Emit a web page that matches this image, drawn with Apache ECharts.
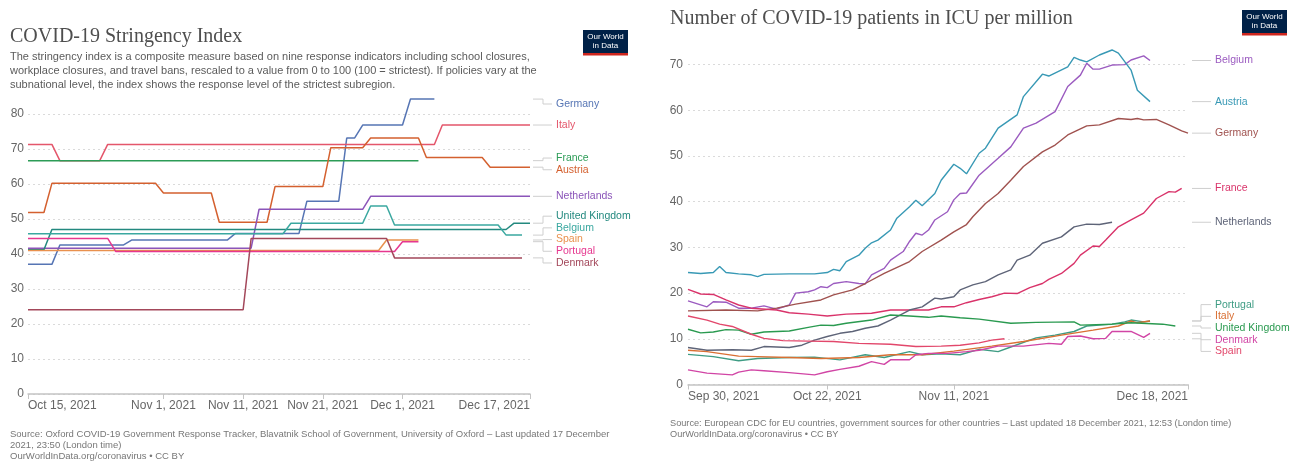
<!DOCTYPE html>
<html><head><meta charset="utf-8">
<script src="https://cdn.jsdelivr.net/npm/echarts@6/dist/echarts.min.js"></script>
<style>html,body{margin:0;padding:0;background:#fff}#c{width:1294px;height:461px}</style>
</head><body><div id="c"></div>
<script>
const DAY = 86400000;
const MONTHS = ['Jan','Feb','Mar','Apr','May','Jun','Jul','Aug','Sep','Oct','Nov','Dec'];
function utc(y,m,d){ return Date.UTC(y,m-1,d); }

// ---------- Left chart: stringency index (day offsets from Oct 15, 2021) ----------
const leftStart = utc(2021,10,15);
const leftEndDay = 63;  // Dec 17, 2021
const leftTickDays = [0,17,27,37,47,63];
const leftNames = ['Germany','Italy','France','Austria','Netherlands','United Kingdom','Belgium','Spain','Portugal','Denmark'];
const leftColors = ['#5675b4','#e4566b','#2c9c57','#d4602f','#8b55b9','#23897f','#3aa8a0','#e9914d','#e6378f','#a3475a'];
const germanyL = [[0,37.04],[3,37.04],[4,42.59],[12,42.59],[13,43.98],[25,43.98],[26,45.83],[34,45.83],[35,55.09],[39,55.09],[40,73.15],[41,73.15],[42,76.85],[47,76.85],[48,84.26],[51,84.26]];
const italyL = [[0,71.3],[3,71.3],[4,66.67],[9,66.67],[10,71.3],[51,71.3],[52,76.85],[63,76.85]];
const franceL = [[0,66.67],[49,66.67]];
const austriaL = [[0,51.85],[2,51.85],[3,60.19],[16,60.19],[17,57.41],[23,57.41],[24,49.07],[30,49.07],[31,59.26],[37,59.26],[38,70.37],[42,70.37],[43,73.15],[49,73.15],[50,67.59],[57,67.59],[58,64.81],[63,64.81]];
const netherlandsL = [[0,41.67],[28,41.67],[29,52.78],[42,52.78],[43,56.48],[63,56.48]];
const ukL = [[0,41.2],[2,41.2],[3,47.0],[60,47.0],[61,48.8],[63,48.8]];
const belgiumL = [[0,45.8],[32,45.8],[33,48.8],[42,48.8],[43,53.7],[45,53.7],[46,48.3],[59,48.3],[60,45.4],[62,45.4]];
const spainL = [[0,41.0],[44,41.0],[45,44.0],[49,44.0]];
const portugalL = [[0,44.44],[10,44.44],[11,40.74],[46,40.74],[47,43.52],[49,43.52]];
const denmarkL = [[0,24.07],[27,24.07],[28,44.44],[45,44.44],[46,38.89],[62,38.89]];
const leftData = [germanyL,italyL,franceL,austriaL,netherlandsL,ukL,belgiumL,spainL,portugalL,denmarkL];

// ---------- Right chart: ICU patients per million (day offsets from Sep 30, 2021) ----------
const rightStart = utc(2021,9,30);
const rightEndDay = 79; // Dec 18, 2021
const rightTickDays = [0,22,42,79];
const rightNames = ['Belgium','Austria','Germany','France','Netherlands','Portugal','Italy','United Kingdom','Denmark','Spain'];
const rightColors = ['#9b5bc0','#3899b5','#a0524f','#d9336a','#5e6478','#3f9c84','#d96f33','#2a9a50','#d145a5','#e2476b'];
const belgiumR = [[0,18.3],[3,17.0],[4,18.1],[6,18.0],[8,16.7],[10,16.7],[12,17.2],[14,16.5],[16,17.4],[17,20.0],[19,20.3],[20,20.7],[21,21.4],[22,21.2],[23,22.1],[25,22.5],[27,22.1],[28,22.0],[29,24.0],[31,25.4],[32,27.2],[34,29.1],[35,31.3],[36,33.1],[37,32.7],[38,33.8],[39,36.0],[41,37.8],[42,40.4],[43,41.8],[44,41.9],[46,45.8],[49,49.5],[51,52.0],[53,56.1],[55,57.2],[58,59.7],[60,65.2],[62,67.7],[63,70.3],[64,69.0],[65,69.0],[67,69.9],[69,70.0],[70,71.0],[72,71.9],[73,70.9]];
const austriaR = [[0,24.5],[2,24.3],[4,24.5],[5,25.8],[6,24.5],[8,24.2],[10,24.0],[11,23.6],[12,24.1],[16,24.2],[20,24.2],[22,24.5],[23,25.2],[24,24.9],[25,26.9],[27,28.3],[28,29.8],[29,31.0],[30,31.6],[32,33.8],[33,36.4],[35,38.9],[36,40.3],[37,39.1],[39,41.8],[40,44.7],[42,48.2],[43,47.3],[44,46.1],[46,50.6],[47,51.7],[49,56.1],[52,59.0],[53,63.0],[56,67.9],[57,67.5],[60,69.5],[61,71.6],[62,71.0],[63,70.6],[65,72.1],[67,73.2],[68,72.5],[70,68.8],[71,64.4],[73,61.9]];
const germanyR = [[0,16.1],[6,16.3],[11,16.1],[14,16.7],[17,17.6],[21,18.5],[23,19.6],[26,20.7],[28,22.1],[31,24.3],[35,26.9],[37,29.1],[40,31.6],[42,33.4],[44,35.0],[45,36.7],[47,39.6],[49,41.8],[51,44.7],[53,47.7],[56,50.9],[58,52.4],[60,54.6],[63,56.6],[65,56.8],[68,58.2],[70,58.0],[71,58.2],[72,57.9],[74,58.0],[76,56.8],[78,55.5],[79,55.0]];
const franceR = [[0,20.8],[2,19.8],[4,19.7],[6,18.5],[8,17.4],[10,16.7],[14,16.3],[16,15.7],[19,15.4],[22,15.0],[25,15.4],[29,15.6],[32,16.3],[35,16.3],[38,16.3],[40,17.0],[42,17.0],[44,17.9],[46,18.6],[48,19.2],[50,20.0],[52,19.9],[54,21.2],[56,22.1],[57,23.0],[59,24.3],[61,26.5],[62,28.3],[64,30.3],[65,30.2],[66,31.6],[68,34.5],[70,36.0],[72,37.5],[74,40.7],[76,42.2],[77,42.1],[78,42.9]];
const netherlandsR = [[0,8.1],[3,7.5],[7,7.6],[10,7.5],[12,8.3],[16,8.1],[18,8.6],[20,9.7],[22,10.5],[24,11.2],[26,11.6],[28,12.3],[30,12.8],[32,14.1],[35,16.3],[37,17.0],[39,18.9],[40,18.7],[42,19.2],[43,20.7],[45,21.8],[47,22.5],[49,24.0],[51,25.1],[52,27.2],[54,28.3],[56,30.9],[59,32.3],[61,34.5],[63,35.1],[65,35.0],[67,35.5]];
const portugalR = [[0,6.6],[4,6.1],[8,5.2],[11,5.7],[16,5.9],[20,6.0],[24,5.4],[28,6.5],[31,5.9],[35,7.2],[37,6.5],[40,6.7],[43,6.5],[46,7.7],[49,7.2],[51,8.2],[55,10.2],[58,10.8],[61,11.6],[63,12.8],[67,13.2],[69,13.7],[70,14.1],[72,13.7],[73,13.9]];
const italyR = [[0,7.5],[3,7.2],[8,6.2],[11,6.1],[16,5.9],[21,5.7],[27,5.9],[32,6.5],[37,6.5],[42,7.3],[48,8.4],[53,9.4],[59,10.8],[64,11.9],[68,12.8],[70,13.9],[71,13.5],[73,13.9]];
const ukR = [[0,12.1],[2,11.3],[4,11.5],[6,12.0],[8,11.9],[10,11.0],[12,11.5],[16,11.7],[19,12.5],[21,13.0],[23,12.9],[25,13.4],[29,14.1],[32,15.2],[35,15.0],[38,14.7],[40,15.0],[43,14.6],[46,14.3],[51,13.4],[55,13.6],[61,13.7],[62,13.0],[67,13.2],[70,13.5],[75,13.2],[77,12.8]];
const denmarkR = [[0,3.2],[3,2.5],[7,2.1],[8,2.7],[10,3.2],[12,3.0],[16,2.6],[20,2.1],[22,2.8],[24,3.3],[27,4.0],[29,5.0],[31,4.4],[32,5.4],[35,5.4],[36,6.5],[38,6.8],[41,6.8],[44,7.2],[46,7.5],[49,8.4],[53,8.4],[57,9.0],[59,8.8],[60,10.5],[62,10.6],[64,10.0],[66,10.1],[67,11.6],[70,11.6],[72,10.3],[73,11.2]];
const spainR = [[0,15.0],[3,14.1],[5,13.2],[7,12.7],[10,11.0],[12,10.1],[15,9.6],[19,9.5],[23,9.4],[27,9.0],[32,8.8],[36,8.3],[40,8.4],[43,8.6],[46,9.1],[48,9.7],[50,10.0]];
const rightData = [belgiumR,austriaR,germanyR,franceR,netherlandsR,portugalR,italyR,ukR,denmarkR,spainR];

// ---------- texts ----------
const leftTitle = 'COVID-19 Stringency Index';
const leftSubtitle = ['The stringency index is a composite measure based on nine response indicators including school closures,',
  'workplace closures, and travel bans, rescaled to a value from 0 to 100 (100 = strictest). If policies vary at the',
  'subnational level, the index shows the response level of the strictest subregion.'];
const leftSource = ['Source: Oxford COVID-19 Government Response Tracker, Blavatnik School of Government, University of Oxford – Last updated 17 December',
  '2021, 23:50 (London time)', 'OurWorldInData.org/coronavirus • CC BY'];
const rightTitle = 'Number of COVID-19 patients in ICU per million';
const rightSource = ['Source: European CDC for EU countries, government sources for other countries – Last updated 18 December 2021, 12:53 (London time)',
  'OurWorldInData.org/coronavirus • CC BY'];

const SANS = '"Liberation Sans", Arial, sans-serif';
const SERIF = '"Liberation Serif", "DejaVu Serif", serif';

function fmtDay(start){
  return function(v){ const d = new Date(start + Math.round(v)*DAY); return MONTHS[d.getUTCMonth()] + ' ' + d.getUTCDate() + ', ' + d.getUTCFullYear(); };
}

function xAxisDef(gi, start, endDay, tickDays){
  return {
    type:'value', gridIndex:gi, min:0, max:endDay,
    axisLine:{show:true, onZero:false, lineStyle:{color:'#c4c4c4', width:1.5}},
    axisTick:{show:true, customValues:tickDays, length:5, lineStyle:{color:'#c4c4c4', width:1}},
    axisLabel:{customValues:tickDays, formatter:fmtDay(start), color:'#666', fontSize:12, fontFamily:SANS, margin:6,
      alignMinLabel:'left', alignMaxLabel:'right', showMinLabel:true, showMaxLabel:true},
    splitLine:{show:false}
  };
}
function yAxisDef(gi, max, margin){
  return {
    type:'value', gridIndex:gi, min:0, max:max, interval:10,
    axisLine:{show:false}, axisTick:{show:false},
    axisLabel:{color:'#666', fontSize:12, fontFamily:SANS, margin:margin},
    splitLine:{show:true, lineStyle:{color:'#dadada', type:[2,3], width:1}}
  };
}

const series = [];
leftData.forEach((arr,i) => series.push({
  name:leftNames[i], type:'line', xAxisIndex:0, yAxisIndex:0, showSymbol:false, clip:false, silent:true,
  lineStyle:{color:leftColors[i], width:1.5}, itemStyle:{color:leftColors[i]},
  data: arr.map(p => [p[0], p[1]])
}));
rightData.forEach((arr,i) => series.push({
  name:rightNames[i]+' ', type:'line', xAxisIndex:1, yAxisIndex:1, showSymbol:false, clip:false, silent:true,
  lineStyle:{color:rightColors[i], width:1.4}, itemStyle:{color:rightColors[i]},
  data: arr.map(p => [p[0], p[1]])
}));

const chart = echarts.init(document.getElementById('c'), null, {renderer:'canvas'});
chart.setOption({
  animation:false, backgroundColor:'#fff',
  grid:[
    {left:28, top:114, width:502, height:280},
    {left:688, top:64.6, width:500, height:319.9}
  ],
  xAxis:[xAxisDef(0,leftStart,leftEndDay,leftTickDays), xAxisDef(1,rightStart,rightEndDay,rightTickDays)],
  yAxis:[yAxisDef(0,80,4), yAxisDef(1,70,5)],
  series:series
});

// ---------- graphics ----------
function txt(x,y,text,font,fill,align,valign){
  return {type:'text', x:x, y:y, silent:true, z:10,
    style:{text:text, font:font, fill:fill, textAlign:align||'left', textVerticalAlign:valign||'middle', align:align||'left', verticalAlign:valign||'middle'}};
}
function logo(x,y){
  return {type:'group', x:x, y:y, z:10, children:[
    {type:'rect', shape:{x:0,y:0,width:45,height:25}, style:{fill:'#002147'}},
    {type:'rect', shape:{x:0,y:23,width:45,height:2.5}, style:{fill:'#ce261e'}},
    txt(22.5,7,'Our World','8px '+SANS,'#fff','center','middle'),
    txt(22.5,16,'in Data','8px '+SANS,'#fff','center','middle')
  ]};
}
function layoutLabels(items, gap){
  const sorted = items.slice().sort((a,b)=>a.y-b.y);
  let blocks = sorted.map(it => ({m:[it]}));
  const pos = b => b.m.reduce((s,it)=>s+it.y,0)/b.m.length - (b.m.length-1)*gap/2;
  let changed = true;
  while(changed){
    changed = false;
    for(let i=0;i<blocks.length-1;i++){
      const a = blocks[i], b = blocks[i+1];
      if(pos(a) + a.m.length*gap > pos(b) + 0.01){
        blocks.splice(i,2,{m:a.m.concat(b.m)}); changed = true; break;
      }
    }
  }
  blocks.forEach(b => { const p = pos(b); b.m.forEach((it,k)=>{ it.ly = p + k*gap; }); });
  return sorted;
}
function labelGraphics(gi, data, names, colors, minY, x0, xm, x1, lx){
  const items = data.map((arr,i) => {
    const last = arr[arr.length-1];
    const py = chart.convertToPixel({gridIndex:gi}, [0, last[1]])[1];
    return {i:i, yEnd:py, y:Math.max(py,minY)};
  });
  layoutLabels(items, 11.7);
  const out = [];
  items.forEach(it => {
    out.push({type:'polyline', silent:true, z:9,
      shape:{points:[[x0,it.yEnd],[xm,it.yEnd],[xm,it.ly],[x1,it.ly]]},
      style:{stroke:'#cfcfcf', lineWidth:1, fill:null}});
    out.push(txt(lx, it.ly, names[it.i], '10.5px '+SANS, colors[it.i], 'left', 'middle'));
  });
  return out;
}

const elements = [];
elements.push(txt(10,37,leftTitle,'20px '+SERIF,'#4e4e4e'));
leftSubtitle.forEach((s,k)=>elements.push(txt(10,57+k*14,s,'11px '+SANS,'#5b5b5b')));
leftSource.forEach((s,k)=>elements.push(txt(10,434+k*11,s,'9.5px '+SANS,'#777')));
elements.push(txt(670,19,rightTitle,'20px '+SERIF,'#4e4e4e'));
rightSource.forEach((s,k)=>elements.push(txt(670,423+k*11,s,'9.2px '+SANS,'#777')));
elements.push(logo(583,30));
elements.push(logo(1242,10));
labelGraphics(0, leftData, leftNames, leftColors, 104, 533, 543, 552, 556).forEach(e=>elements.push(e));
labelGraphics(1, rightData, rightNames, rightColors, 0, 1192, 1201, 1211, 1215).forEach(e=>elements.push(e));
chart.setOption({graphic:{elements:elements}});
</script></body></html>
